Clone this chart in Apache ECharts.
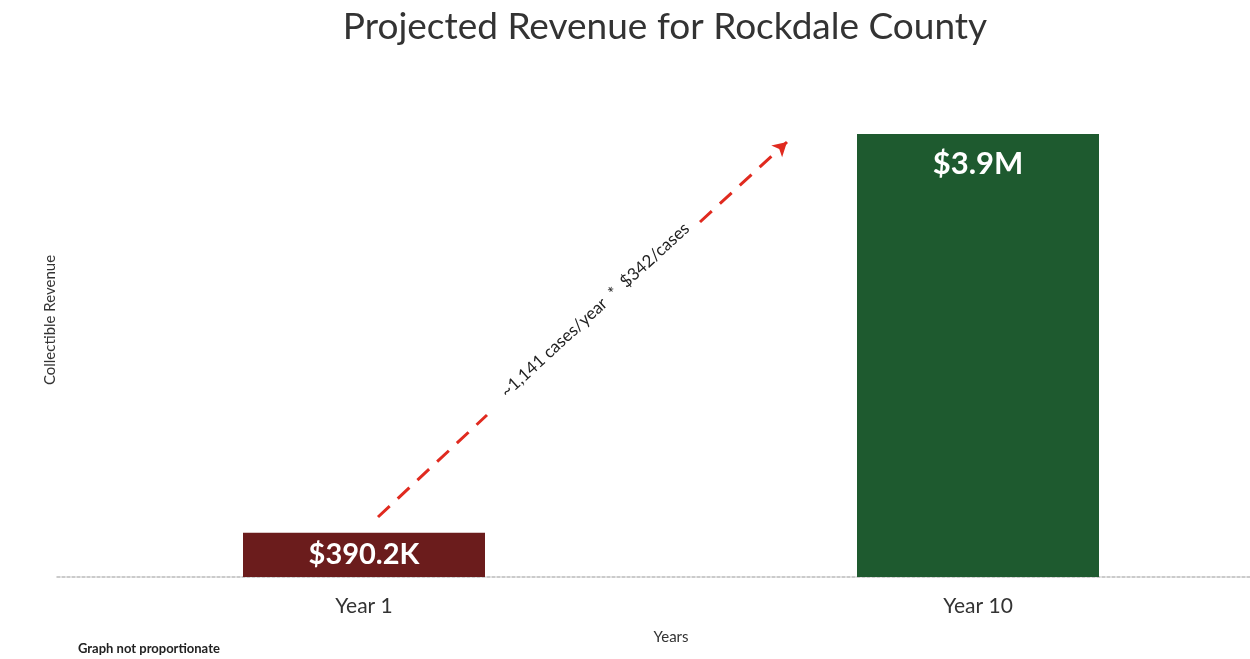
<!DOCTYPE html>
<html>
<head>
<meta charset="utf-8">
<title>Projected Revenue for Rockdale County</title>
<script src="https://cdn.jsdelivr.net/npm/echarts@6/dist/echarts.min.js"></script>
<style>
  html, body { margin: 0; padding: 0; background: #fff; }
  #chart { width: 1250px; height: 659px; }
</style>
</head>
<body>
<div id="chart"></div>
<script>
// revenue in thousands of dollars
const years = ['Year 1', 'Year 10'];
const revenue = [390.2, 3900];
const revenueLabels = ['$390.2K', '$3.9M'];
const barColors = ['#6b1c1c', '#1e5a2f'];
const growthNote = '~1,141 cases/year  *  $342/cases';

const chart = echarts.init(document.getElementById('chart'));
const font = 'Lato, "Open Sans", sans-serif';

chart.setOption({
  animation: false,
  backgroundColor: '#fff',
  textStyle: { fontFamily: font },
  title: {
    text: 'Projected Revenue for Rockdale County',
    left: 660, top: 4, textAlign: 'center',
    textStyle: { fontSize: 37, fontWeight: 'normal', color: '#333', fontFamily: font }
  },
  grid: { left: 57, width: 1228, top: 134, bottom: 82, outerBoundsMode: 'none', containLabel: false },
  xAxis: {
    type: 'category',
    data: years,
    axisTick: { show: false },
    axisLine: { lineStyle: { color: '#bbb', width: 1.5, type: [3, 2] } },
    axisLabel: { fontSize: 21, color: '#333', margin: 19, fontFamily: font },
    name: 'Years',
    nameLocation: 'middle',
    nameGap: 53,
    nameTextStyle: { fontSize: 15, color: '#333', padding: [0, 0, 0, 0] }
  },
  yAxis: {
    type: 'value',
    min: 0, max: 3900,
    show: false
  },
  graphic: [
    {
      type: 'text', x: 50, y: 320, rotation: Math.PI / 2,
      style: { text: 'Collectible Revenue', fill: '#333', font: '15px ' + font, align: 'center', verticalAlign: 'middle' }
    },
    {
      type: 'text', left: 78, top: 642,
      style: { text: 'Graph not proportionate', fill: '#222', font: 'bold 13px ' + font }
    },
    {
      type: 'text', x: 595, y: 310, rotation: Math.atan2(375, 409),
      style: { text: growthNote, fill: '#222', font: '17px ' + font, align: 'center', verticalAlign: 'middle' }
    }
  ],
  series: [{
    type: 'bar',
    barWidth: 242,
    data: revenue.map((v, i) => ({
      value: v,
      itemStyle: { color: barColors[i] },
      label: {
        show: true,
        formatter: revenueLabels[i],
        position: i === 0 ? 'inside' : 'insideTop',
        distance: 14,
        color: '#fff',
        fontWeight: 'bold',
        fontSize: i === 0 ? 29 : 31,
        fontFamily: font
      }
    })),
    markLine: {
      silent: true,
      symbolSize: [12, 14],
      lineStyle: { color: '#e02a1f', width: 3, type: [16, 11] },
      label: { show: false },
      data: [
        [{ x: 378, y: 517, symbol: 'none' }, { x: 487, y: 415, symbol: 'none' }],
        [{ x: 700, y: 222, symbol: 'none' }, { x: 787, y: 142, symbol: 'arrow' }]
      ]
    }
  }]
});
</script>
</body>
</html>
